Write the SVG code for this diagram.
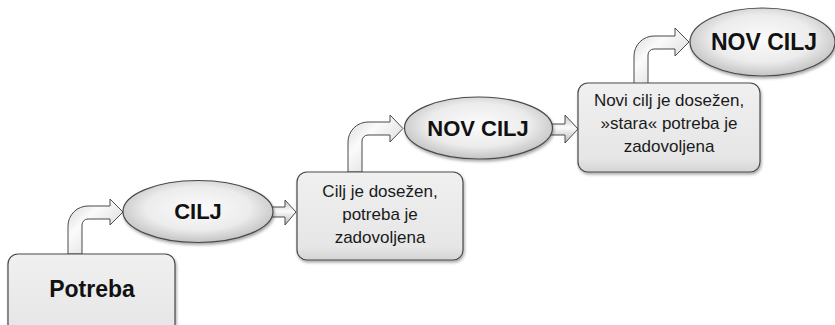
<svg xmlns="http://www.w3.org/2000/svg" width="835" height="325" viewBox="0 0 835 325">
  <defs>
    <linearGradient id="boxFill" x1="0" y1="0" x2="0" y2="1">
      <stop offset="0" stop-color="#f0f0f0"/>
      <stop offset="0.85" stop-color="#e6e6e6"/>
      <stop offset="1" stop-color="#d4d4d4"/>
    </linearGradient>
    <radialGradient id="ovalFill" cx="0.5" cy="0.45" r="0.58">
      <stop offset="0" stop-color="#fbfbfb"/>
      <stop offset="0.6" stop-color="#ececec"/>
      <stop offset="1" stop-color="#bdbdbd"/>
    </radialGradient>
    <linearGradient id="tubeH" x1="0" y1="0" x2="0" y2="1">
      <stop offset="0" stop-color="#c4c4c4"/>
      <stop offset="0.45" stop-color="#fbfbfb"/>
      <stop offset="1" stop-color="#b8b8b8"/>
    </linearGradient>
    <linearGradient id="tubeBent" x1="0" y1="0" x2="1" y2="1">
      <stop offset="0" stop-color="#d4d4d4"/>
      <stop offset="0.35" stop-color="#fbfbfb"/>
      <stop offset="0.7" stop-color="#e2e2e2"/>
      <stop offset="1" stop-color="#bcbcbc"/>
    </linearGradient>
    <filter id="shadow" x="-10%" y="-10%" width="125%" height="130%">
      <feDropShadow dx="1" dy="2" stdDeviation="1.5" flood-color="#000" flood-opacity="0.35"/>
    </filter>
  </defs>
  <style>
    .box { fill: url(#boxFill); stroke: #4a4a4a; stroke-width: 1.2; filter: url(#shadow); }
    .oval { fill: url(#ovalFill); stroke: #4a4a4a; stroke-width: 1.2; filter: url(#shadow); }
    .bent { fill: url(#tubeBent); stroke: #4a4a4a; stroke-width: 1; stroke-linejoin: miter; }
    .straight { fill: url(#tubeH); stroke: #4a4a4a; stroke-width: 1; }
    .big { font-family: "Liberation Sans", Arial, sans-serif; font-weight: bold; font-size: 22px; fill: #111; text-anchor: middle; }
    .small { font-family: "Liberation Sans", Arial, sans-serif; font-size: 17px; fill: #1a1a1a; text-anchor: middle; }
  </style>

  <!-- connectors: bent step arrows and short straight arrows -->
  <g id="connectors">
    <path class="bent" d="M68,254 V226 A20,20 0 0 1 88,206 H110 V199 L123,212 L110,225 V219 H88 A6,6 0 0 0 82,225 V254 Z"/>
    <path class="straight" d="M265,207 H285 V200 L296,212 L285,225 V217 H265 Z"/>
    <path class="bent" d="M348,172 V142 A20,20 0 0 1 368,122 H390 V115 L403,128.5 L390,142 V135 H368 A6,6 0 0 0 362,141 V172 Z"/>
    <path class="straight" d="M545,124 H565 V115 L578,129 L565,143 V135 H545 Z"/>
    <path class="bent" d="M634,84 V56 A20,20 0 0 1 654,36 H675 V28 L689,42 L675,56 V49 H654 A6,6 0 0 0 648,55 V84 Z"/>
  </g>

  <g id="potreba">
    <rect class="box" x="8" y="254" width="167" height="90" rx="10"/>
    <text class="big" x="92" y="297" style="font-size:23px">Potreba</text>
  </g>

  <g id="cilj">
    <ellipse class="oval" cx="198" cy="211.5" rx="75" ry="31"/>
    <text class="big" x="198" y="219">CILJ</text>
  </g>

  <g id="dosezen">
    <rect class="box" x="297" y="172" width="166" height="88" rx="10"/>
    <text class="small" x="380" y="197">Cilj je dosežen,</text>
    <text class="small" x="380" y="220">potreba je</text>
    <text class="small" x="380" y="243">zadovoljena</text>
  </g>

  <g id="nov-cilj">
    <ellipse class="oval" cx="478.5" cy="128" rx="74" ry="31"/>
    <text class="big" x="478" y="136">NOV CILJ</text>
  </g>

  <g id="novi-dosezen">
    <rect class="box" x="578" y="83" width="182" height="89" rx="10"/>
    <text class="small" x="669" y="106">Novi cilj je dosežen,</text>
    <text class="small" x="669" y="129">»stara« potreba je</text>
    <text class="small" x="669" y="152">zadovoljena</text>
  </g>

  <g id="nov-cilj-2">
    <ellipse class="oval" cx="762.5" cy="42" rx="72.5" ry="34"/>
    <text class="big" x="764" y="50" style="font-size:23px">NOV CILJ</text>
  </g>
</svg>
